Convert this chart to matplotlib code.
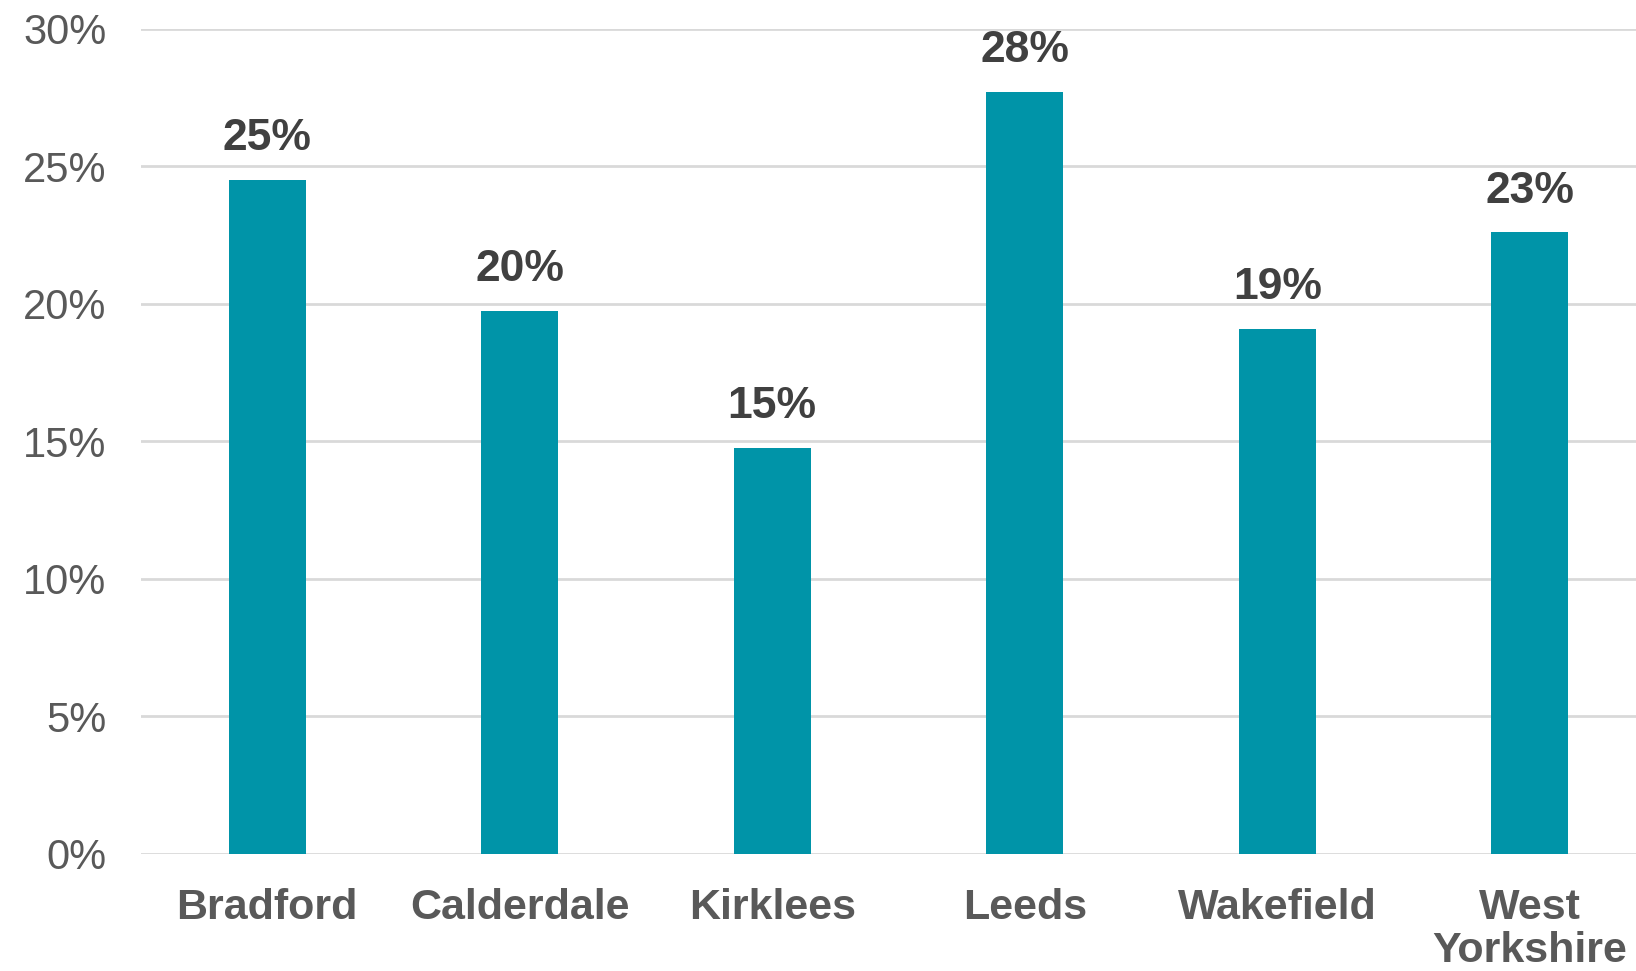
import matplotlib
matplotlib.use("Agg")
import matplotlib.pyplot as plt
from matplotlib.ticker import MultipleLocator, FuncFormatter

categories = ["Bradford", "Calderdale", "Kirklees", "Leeds", "Wakefield", "West\nYorkshire"]
values = [24.5, 19.75, 14.75, 27.7, 19.1, 22.6]
labels = ["25%", "20%", "15%", "28%", "19%", "23%"]

plt.rcParams['font.family'] = ['Liberation Sans', 'DejaVu Sans']

fig = plt.figure(figsize=(16.36, 9.71), dpi=100)
ax = fig.add_axes([141/1636, 117.5/971, 1515/1636, 824.5/971])

x = list(range(len(categories)))
bars = ax.bar(x, values, width=0.305, color="#0094A8", zorder=3)

ax.set_xlim(-0.5, 5.5)
ax.set_ylim(0, 30)
ax.yaxis.set_major_locator(MultipleLocator(5))
ax.yaxis.set_major_formatter(FuncFormatter(lambda v, p: f"{int(v)}%"))
ax.grid(axis='y', color="#d9d9d9", linewidth=2, zorder=0)
for s in ax.spines.values():
    s.set_visible(False)
ax.tick_params(axis='both', length=0)
ax.tick_params(axis='y', labelsize=30, labelcolor="#595959", pad=25)
ax.set_xticks(x)
ax.set_xticklabels(categories, fontsize=31, color="#595959", fontweight='bold', linespacing=1.1)
ax.tick_params(axis='x', pad=25)

for xi, v, lab in zip(x, values, labels):
    ax.annotate(lab, (xi, v), xytext=(0, 15), textcoords='offset points',
                ha='center', va='bottom', fontsize=32, fontweight='bold', color="#404040")

fig.savefig("out.png", dpi=100)
